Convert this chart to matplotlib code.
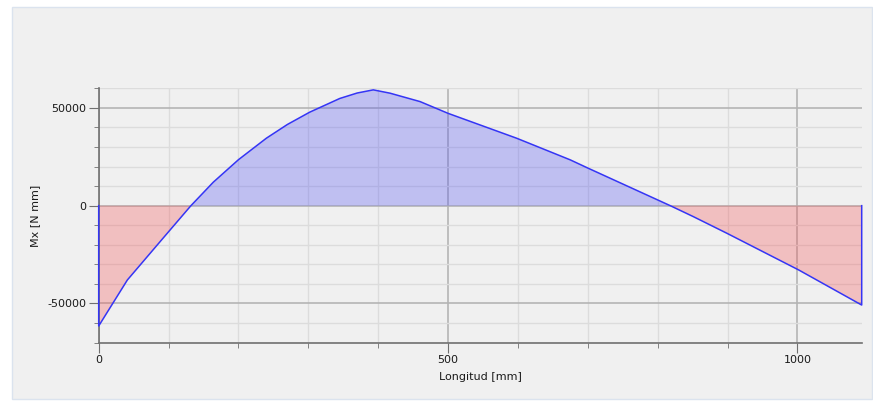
import numpy as np
import matplotlib
matplotlib.use("Agg")
import matplotlib.pyplot as plt
from matplotlib.patches import Rectangle
from matplotlib.ticker import MultipleLocator

plt.rcParams["axes.unicode_minus"] = False

# Mx diagram along the beam
longitud = [0, 41, 90, 132, 164, 200, 240, 270, 302, 345, 370, 393, 417, 460,
            500, 598, 675, 699, 818, 851, 899, 1002, 1092]
mx = [-61500, -38000, -17500, 0, 12000, 23500, 34500, 41500, 47800, 54800,
      57600, 59200, 57500, 53200, 47200, 34500, 23400, 19400, 0, -5600,
      -14100, -32900, -50800]

W, H = 873, 405
fig = plt.figure(figsize=(W / 100, H / 100), dpi=100)
fig.patch.set_facecolor("white")

# grey panel behind the chart
panel = Rectangle((12 / W, 1 - 399 / H), (872 - 12) / W, (399 - 7) / H,
                  transform=fig.transFigure, facecolor="#f0f0f0",
                  edgecolor="#dbe3ee", linewidth=1.0, zorder=-10)
fig.add_artist(panel)

ax = fig.add_axes([98.7 / W, 1 - 342.6 / H, (861.7 - 98.7) / W, (342.6 - 88.3) / H])
ax.set_facecolor("none")

x = np.array(longitud, dtype=float)
y = np.array(mx, dtype=float)

ax.fill_between(x, y, 0, where=y >= 0, interpolate=True,
                facecolor="#5050f6", alpha=0.3, edgecolor="none", zorder=2)
ax.fill_between(x, y, 0, where=y <= 0, interpolate=True,
                facecolor="#f65053", alpha=0.3, edgecolor="none", zorder=2)
ax.plot(np.r_[x[0], x, x[-1]], np.r_[0, y, 0], color="#3535f5", lw=1.1,
        zorder=6, clip_on=False)

ax.set_xlim(0, x[-1])
ax.set_ylim(-70000, 60000)

ax.xaxis.set_major_locator(MultipleLocator(500))
ax.xaxis.set_minor_locator(MultipleLocator(100))
ax.yaxis.set_major_locator(MultipleLocator(50000))
ax.yaxis.set_minor_locator(MultipleLocator(10000))

ax.set_axisbelow(True)
ax.grid(which="major", color="#b4b4b4", lw=1.2)
ax.grid(which="minor", color="#dcdcdc", lw=1.0)

for s in ["top", "right"]:
    ax.spines[s].set_visible(False)
for s in ["left", "bottom"]:
    ax.spines[s].set_color("#707070")
    ax.spines[s].set_linewidth(1.2)
    ax.spines[s].set_zorder(5)

ax.tick_params(which="major", length=7, color="#707070", labelsize=8,
               labelcolor="#1a1a1a", pad=2)
ax.tick_params(which="minor", length=3.5, color="#707070")

ax.set_xlabel("Longitud [mm]", fontsize=8, color="#1a1a1a", labelpad=5)
ax.set_ylabel("Mx [N mm]", fontsize=8, color="#1a1a1a", labelpad=5)

fig.savefig("out.png", dpi=100)
